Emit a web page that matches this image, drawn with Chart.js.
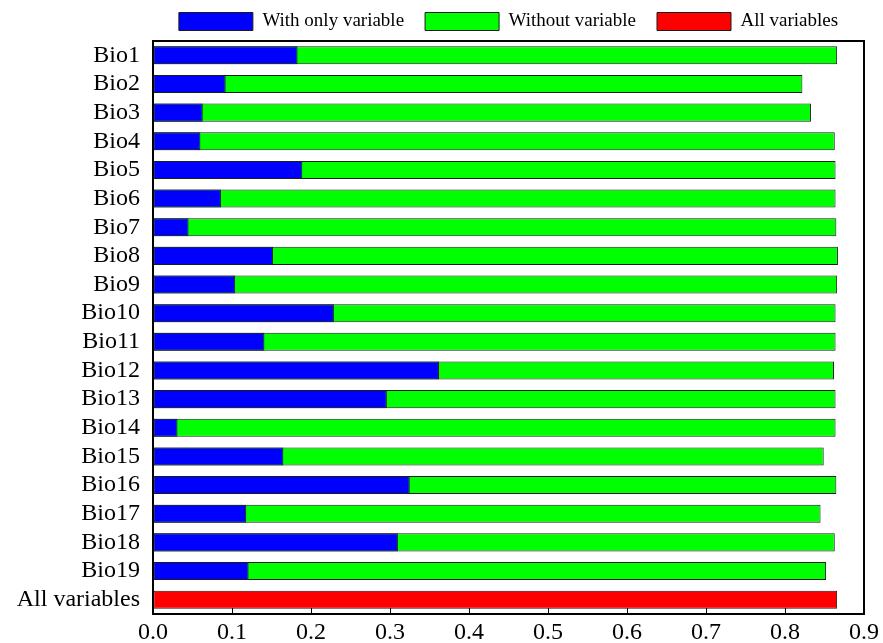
<!DOCTYPE html>
<html>
<head>
<meta charset="utf-8">
<script src="https://cdn.jsdelivr.net/npm/chart.js@4.4.1/dist/chart.umd.min.js"></script>
<style>
  html, body { margin: 0; padding: 0; background: #fff; }
  #wrap { width: 883px; height: 643px; }
</style>
</head>
<body>
<div id="wrap"><canvas id="chart" width="883" height="643"></canvas></div>
<script>
// Variable contribution (jackknife style) per bioclimatic variable
const categories = ['Bio1', 'Bio2', 'Bio3', 'Bio4', 'Bio5', 'Bio6', 'Bio7', 'Bio8', 'Bio9', 'Bio10',
  'Bio11', 'Bio12', 'Bio13', 'Bio14', 'Bio15', 'Bio16', 'Bio17', 'Bio18', 'Bio19', 'All variables'];

const withOnly = [0.183, 0.092, 0.063, 0.060, 0.189, 0.086, 0.045, 0.152, 0.104, 0.229,
  0.141, 0.362, 0.296, 0.031, 0.165, 0.325, 0.118, 0.310, 0.121, null];

const withoutVar = [0.866, 0.822, 0.833, 0.863, 0.864, 0.864, 0.865, 0.867, 0.866, 0.864,
  0.864, 0.862, 0.864, 0.864, 0.849, 0.865, 0.845, 0.863, 0.852, null];

const allVars = [null, null, null, null, null, null, null, null, null, null,
  null, null, null, null, null, null, null, null, null, 0.866];

const xTicks = [0, 0.1, 0.2, 0.3, 0.4, 0.5, 0.6, 0.7, 0.8, 0.9];

const serif = '"Liberation Serif", "Times New Roman", serif';

// black box around the plot area, with the x ticks pointing inward
const frame = {
  id: 'frame',
  afterDraw(chart) {
    const a = chart.chartArea;
    const ctx = chart.ctx;
    const x = chart.scales.x;
    ctx.save();
    ctx.strokeStyle = '#000';
    ctx.lineWidth = 1;
    ctx.beginPath();
    xTicks.forEach(v => {
      const px = Math.round(x.getPixelForValue(v)) + 0.5;
      ctx.moveTo(px, a.bottom);
      ctx.lineTo(px, a.bottom - 6);
    });
    ctx.stroke();
    ctx.lineWidth = 2;
    ctx.strokeRect(a.left, a.top, a.right - a.left, a.bottom - a.top);
    ctx.restore();
  }
};

const barOpts = {
  grouped: false,
  borderColor: '#1a1a1a',
  borderWidth: 1,
  borderSkipped: false,
  barPercentage: 0.63,
  categoryPercentage: 1
};

new Chart(document.getElementById('chart'), {
  type: 'bar',
  data: {
    labels: categories,
    datasets: [
      Object.assign({ label: 'With only variable', data: withOnly, backgroundColor: '#0000ff' }, barOpts),
      Object.assign({ label: 'Without variable', data: withoutVar, backgroundColor: '#00ff00' }, barOpts),
      Object.assign({ label: 'All variables', data: allVars, backgroundColor: '#ff0000' }, barOpts)
    ]
  },
  options: {
    indexAxis: 'y',
    responsive: false,
    animation: false,
    layout: { padding: { left: 0, right: 14, top: -9, bottom: 0 } },
    plugins: {
      legend: {
        display: true,
        position: 'top',
        fullSize: false,
        labels: {
          boxWidth: 74,
          boxHeight: 18,
          padding: 21,
          color: '#000',
          font: { family: serif, size: 19 }
        }
      },
      tooltip: { enabled: false }
    },
    scales: {
      x: {
        type: 'linear',
        min: 0,
        max: 0.9,
        afterBuildTicks(scale) {
          scale.ticks = xTicks.map(v => ({ value: v }));
        },
        afterFit(scale) { scale.height = 29; },
        grid: { drawOnChartArea: false, drawTicks: false },
        border: { display: false },
        ticks: {
          color: '#000',
          padding: 4,
          font: { family: serif, size: 24 },
          callback: v => v.toFixed(1)
        }
      },
      y: {
        afterFit(scale) { scale.width = 153; },
        grid: { display: false, drawTicks: false },
        border: { display: false },
        ticks: {
          color: '#000',
          padding: 13,
          autoSkip: false,
          font: { family: serif, size: 24 }
        }
      }
    }
  },
  plugins: [frame]
});
</script>
</body>
</html>
